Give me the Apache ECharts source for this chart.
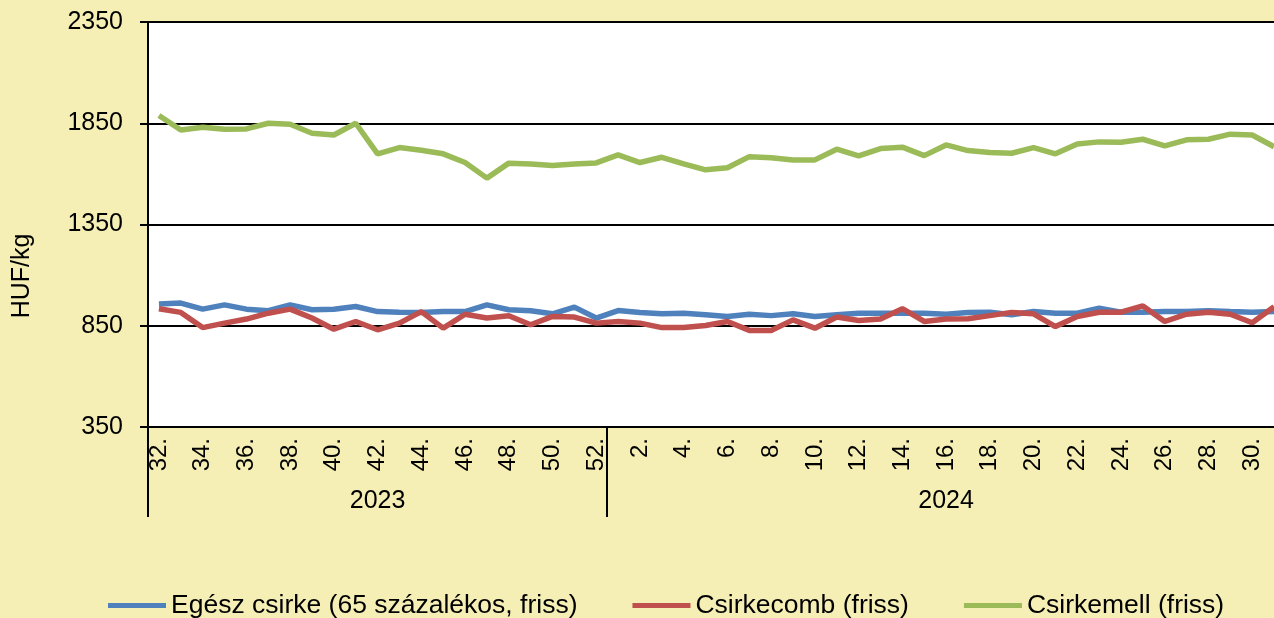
<!DOCTYPE html>
<html>
<head>
<meta charset="utf-8">
<script src="https://cdn.jsdelivr.net/npm/echarts@6/dist/echarts.min.js"></script>
<style>
html,body{margin:0;padding:0;background:#F5EFB5;}
#chart{width:1274px;height:618px;}
</style>
</head>
<body>
<div id="chart"></div>
<script>
// Week labels: 2023 weeks 32-52, 2024 weeks 1-31
const weeks2023 = ['32.','33.','34.','35.','36.','37.','38.','39.','40.','41.','42.','43.','44.','45.','46.','47.','48.','49.','50.','51.','52.'];
const weeks2024 = ['1.','2.','3.','4.','5.','6.','7.','8.','9.','10.','11.','12.','13.','14.','15.','16.','17.','18.','19.','20.','21.','22.','23.','24.','25.','26.','27.','28.','29.','30.','31.'];
const years = ['2023','2024'];

const seriesNames = ['Egész csirke (65 százalékos, friss)','Csirkecomb (friss)','Csirkemell (friss)'];

const egeszCsirke = [957,962,932,953,932,924,953,929,932,945,920,917,916,920,920,953,929,924,909,942,888,
  925,916,909,912,904,896,907,900,909,896,904,912,912,912,912,907,916,917,904,920,912,912,937,917,917,920,920,924,920,917,920];
const csirkecomb = [934,916,841,863,883,912,932,888,833,871,830,863,920,838,907,888,899,855,896,893,863,
  871,863,841,841,851,871,827,827,879,838,893,876,883,934,871,883,885,900,916,909,846,896,917,917,948,871,907,917,907,865,944];
const csirkemell = [1888,1817,1830,1820,1822,1850,1845,1801,1792,1850,1699,1730,1717,1699,1656,1579,1653,1649,1641,1649,1654,
  1694,1656,1682,1649,1620,1630,1685,1680,1669,1669,1722,1689,1725,1732,1690,1743,1715,1705,1702,1730,1699,1748,1758,1756,1771,1738,1768,1771,1796,1792,1734];

const yMin = 350, yMax = 2350, yStep = 500;

const categories = weeks2023.concat(weeks2024);
const n2023 = weeks2023.length;
const yearStart = [0, n2023];
const yearMid = [Math.floor(n2023/2), n2023 + Math.floor(weeks2024.length/2)];

const font = 'Liberation Sans, Arial, sans-serif';
const chart = echarts.init(document.getElementById('chart'));
chart.setOption({
  backgroundColor: '#F5EFB5',
  animation: false,
  grid: { left: 148, top: 22, width: 1137, bottom: 191, show: true, backgroundColor: '#ffffff', borderWidth: 0, outerBoundsMode: 'none', containLabel: false },
  legend: {
    left: 108, top: 592, padding: 0,
    itemWidth: 58, itemHeight: 5, itemGap: 55,
    icon: 'rect',
    textStyle: { fontFamily: font, fontSize: 26.5, color: '#000' },
    data: seriesNames
  },
  graphic: [{
    type: 'text', x: 10, y: 276, rotation: Math.PI/2,
    style: { text: 'HUF/kg', font: '25px ' + font, fill: '#000', textAlign: 'center', textVerticalAlign: 'top' }
  }],
  xAxis: [{
    type: 'category', data: categories, boundaryGap: true,
    axisLine: { lineStyle: { color: '#000', width: 2 } },
    axisTick: { show: false },
    axisLabel: { interval: 1, rotate: 90, margin: 11, fontFamily: font, fontSize: 24, color: '#000' }
  }, {
    type: 'category', data: categories, boundaryGap: true, position: 'bottom',
    axisLine: { show: false },
    axisTick: { show: true, length: 90, interval: (i) => yearStart.indexOf(i) >= 0, lineStyle: { color: '#000', width: 2 } },
    axisLabel: {
      interval: (i) => yearMid.indexOf(i) >= 0, margin: 62, fontFamily: font, fontSize: 25, color: '#000',
      formatter: (v, i) => { const k = yearMid.indexOf(i); return k >= 0 ? years[k] : ''; }
    }
  }],
  yAxis: {
    type: 'value', min: yMin, max: yMax, interval: yStep,
    axisLine: { show: true, lineStyle: { color: '#000', width: 2 } },
    axisTick: { show: true, length: 8, lineStyle: { color: '#000', width: 2 } },
    axisLabel: { margin: 25, fontFamily: font, fontSize: 25, color: '#000', formatter: (v) => String(v) },
    splitLine: { lineStyle: { color: '#000', width: 2 } }
  },
  series: [
    { name: seriesNames[0], type: 'line', data: egeszCsirke, symbol: 'none', lineStyle: { color: '#4F81BD', width: 5.5 }, itemStyle: { color: '#4F81BD' } },
    { name: seriesNames[1], type: 'line', data: csirkecomb, symbol: 'none', lineStyle: { color: '#C0504D', width: 5.5 }, itemStyle: { color: '#C0504D' } },
    { name: seriesNames[2], type: 'line', data: csirkemell, symbol: 'none', lineStyle: { color: '#9BBB59', width: 5.5 }, itemStyle: { color: '#9BBB59' } }
  ]
});
</script>
</body>
</html>
